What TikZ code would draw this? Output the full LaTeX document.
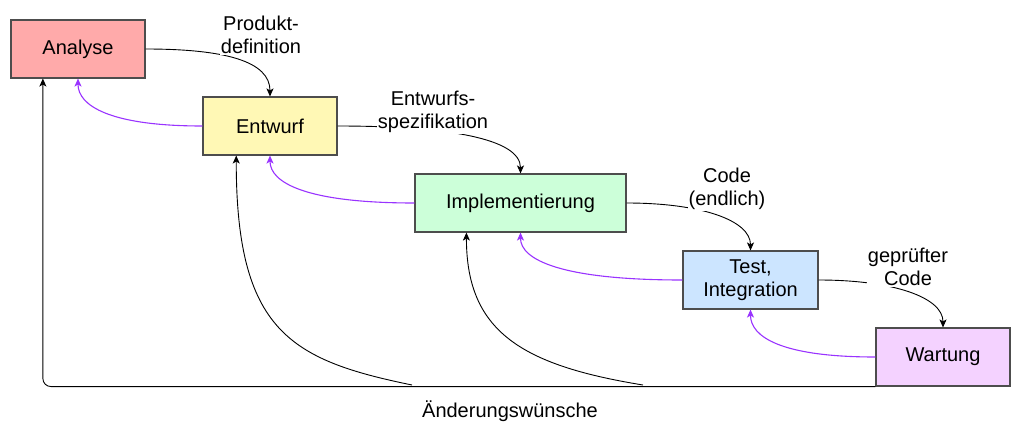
\documentclass[tikz,border=0pt]{standalone}
\usepackage{fontspec}
\setmainfont{Liberation Sans}
\usetikzlibrary{arrows.meta,calc}
\definecolor{cAna}{HTML}{FFAAAA}
\definecolor{cEnt}{HTML}{FFF8B5}
\definecolor{cImp}{HTML}{CCFFD9}
\definecolor{cTest}{HTML}{CCE5FF}
\definecolor{cWart}{HTML}{F4D2FF}
\definecolor{cPurp}{HTML}{9933FF}
\definecolor{cBord}{HTML}{4D4D4D}
\tikzset{
  phase/.style={draw=cBord, line width=1.1pt, minimum height=58pt, inner sep=0pt, align=center},
  fwd/.style={draw=black, line width=0.9pt, -{Stealth[length=8pt,width=7pt,inset=2pt]}},
  back/.style={draw=cPurp, line width=1.1pt, -{Stealth[length=8pt,width=7pt,inset=2pt]}},
  lbl/.style={fill=white, align=center, inner sep=1pt}
}
\begin{document}
\begin{tikzpicture}[x=1pt,y=-1pt, font=\fontsize{20}{23.5}\selectfont]
\useasboundingbox (0,0) rectangle (1022,434);
% phases
\node[phase, fill=cAna,  minimum width=134pt] (Ana)  at (78,49)  {\raisebox{-1.5pt}{Analyse}};
\node[phase, fill=cEnt,  minimum width=134pt] (Ent)  at (270,126) {\raisebox{-1.5pt}{Entwurf}};
\node[phase, fill=cImp,  minimum width=211pt] (Imp)  at (520.5,203) {\raisebox{-1.5pt}{Implementierung}};
\node[phase, fill=cTest, minimum width=135pt] (Test) at (750.5,280) {Test,\\Integration};
\node[phase, fill=cWart, minimum width=134pt] (Wart) at (943,357) {\raisebox{-1.5pt}{Wartung}};
% anchors
\coordinate (AnaB) at ($(Ana.south west)!0.24!(Ana.south east)$);
\coordinate (EntB) at ($(Ent.south west)!0.25!(Ent.south east)$);
\coordinate (ImpB) at ($(Imp.south west)!0.245!(Imp.south east)$);
\coordinate (b1) at (412,385);
\coordinate (b2) at (643,385);
% forward arrows
\draw[fwd] (Ana.east) .. controls +(80,0) and +(0,-35) .. (Ent.north);
\draw[fwd] (Ent.east) .. controls +(110,0) and +(0,-35) .. (Imp.north);
\draw[fwd] (Imp.east) .. controls +(75,0) and +(0,-30) .. (Test.north);
\draw[fwd] (Test.east) .. controls +(75,0) and +(0,-30) .. (Wart.north);
% labels
\node[lbl] (l1) at (261,35) {Produkt-\\definition};
\node[lbl] (l2) at (433,112) {Entwurfs-\\spezifikation};
\node[lbl] (l3) at (727,189) {Code\\(endlich)};
\node[lbl] (l4) at (908,267) {geprüfter\\Code};
% back (purple) arrows
\draw[back] (Ent.west) .. controls +(-93,0) and +(0,27) .. (Ana.south);
\draw[back] (Imp.west) .. controls +(-109,0) and +(0,27) .. (Ent.south);
\draw[back] (Test.west) .. controls +(-122,0) and +(0,27) .. (Imp.south);
\draw[back] (Wart.west) .. controls +(-95,0) and +(0,27) .. (Test.south);
% change requests
\draw[fwd, rounded corners=8pt] (Wart.south west) -| (AnaB);
\draw[fwd] (b1) .. controls +(-122,-25) and +(0,175) .. (EntB);
\draw[fwd] (b2) .. controls +(-123,-20) and +(0,98) .. (ImpB);
\node (chg) at (510,411) {Änderungswünsche};
\end{tikzpicture}
\end{document}
